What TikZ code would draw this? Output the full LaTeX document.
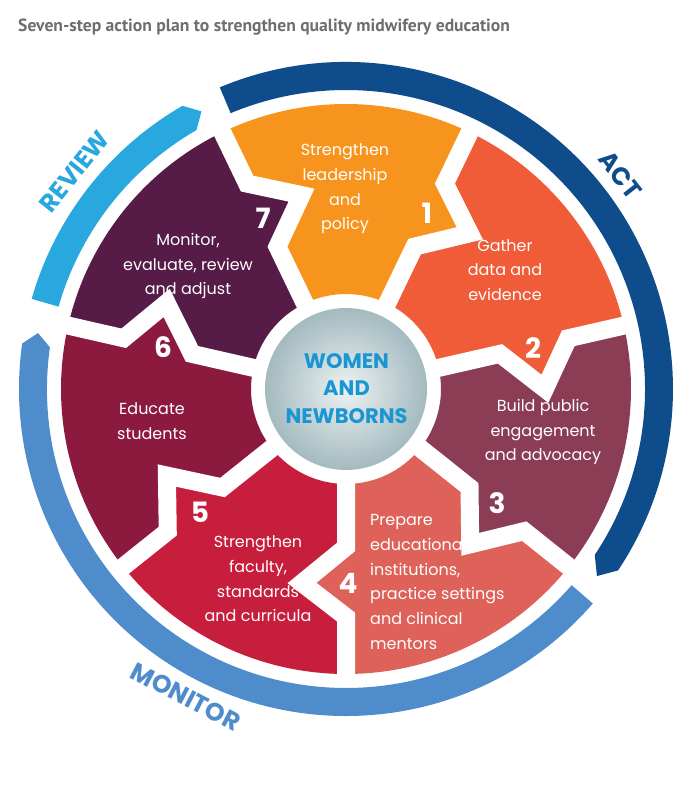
\documentclass[tikz,border=0pt]{standalone}
\usepackage{fontspec}
\setmainfont{Poppins}
\newfontfamily\titlefont{PT Sans}
\usetikzlibrary{calc}

\definecolor{actblue}{HTML}{0F4C8C}
\definecolor{revblue}{HTML}{29A8E0}
\definecolor{monblue}{HTML}{4F8CCB}
\definecolor{sone}{HTML}{F7941D}
\definecolor{stwo}{HTML}{F05B38}
\definecolor{sthree}{HTML}{8A3D55}
\definecolor{sfour}{HTML}{DE6259}
\definecolor{sfive}{HTML}{C71E3D}
\definecolor{ssix}{HTML}{8C1A3F}
\definecolor{sseven}{HTML}{561C47}
\definecolor{womenblue}{HTML}{1B96D4}
\definecolor{titlegray}{HTML}{6D6E71}
\definecolor{discedge}{HTML}{A3BABF}
\definecolor{disccentre}{HTML}{EDF2F2}

\newcommand\segshape[3]{%
  \fill[#1] ({#2}:95) -- ({#2}:158) -- ($({#2}:194)+({#2-90}:44)$) -- ({#2}:228) -- ({#2}:285)
    arc[start angle={#2}, end angle={#3}, radius=285]
    -- ({#3}:228) -- ($({#3}:194)+({#3-90}:44)$) -- ({#3}:158) -- ({#3}:95)
    arc[start angle={#3}, end angle={#2}, radius=95] -- cycle;}
\newcommand\gapline[1]{%
  \draw[gapstroke] ({#1}:86) -- ({#1}:158) -- ($({#1}:194)+({#1-90}:44)$) -- ({#1}:228) -- ({#1}:292);}

\begin{document}
\begin{tikzpicture}[x=1pt,y=1pt,
  gapstroke/.style={white, line width=18pt, line join=miter, miter limit=20},
  segtext/.style={align=center, text=white, font=\fontsize{16}{24.7}\selectfont, inner sep=0pt},
  numtext/.style={text=white, font=\fontsize{28}{28}\selectfont\bfseries, inner sep=0pt},
  ringlabel/.style={inner sep=0pt, font=\fontsize{25}{25}\selectfont\bfseries}
]
\fill[white] (-346,-405) rectangle (342,389);
\useasboundingbox (-346,-405) rectangle (342,389);

% title
\node[anchor=base west, inner sep=0pt, text=titlegray,
  font=\titlefont\fontsize{17.6}{20}\selectfont\bfseries] (title) at (-328,357)
  {Seven-step action plan to strengthen quality midwifery education};

% outer rings
\fill[actblue] (112.7:327) arc[start angle=112.7, end angle=-33.7, radius=327]
  -- (-36.7:313) -- (-33.7:299) arc[start angle=-33.7, end angle=112.7, radius=299] -- cycle;
\fill[revblue] (164:327) arc[start angle=164, end angle=120, radius=327]
  -- (117.5:313) -- (120:299) arc[start angle=120, end angle=164, radius=299] -- cycle;
\fill[monblue] (319:327) arc[start angle=319, end angle=172, radius=327]
  -- (169.7:313) -- (172:299) arc[start angle=172, end angle=319, radius=299] -- cycle;

% ring labels
\node[ringlabel, text=actblue, rotate=-52] (act) at (38:348) {ACT};
\node[ringlabel, text=revblue, rotate=51.3] (review) at (141.3:348) {REVIEW};
\node[ringlabel, text=monblue, rotate=-27.5] (monitor) at (242.5:347) {MONITOR};

% segments
\segshape{sone}{115.714}{64.286}
\segshape{stwo}{64.286}{12.857}
\segshape{sthree}{12.857}{-38.571}
\segshape{sfour}{-38.571}{-90}
\segshape{sfive}{-90}{-141.429}
\segshape{ssix}{-141.429}{-192.857}
\segshape{sseven}{-192.857}{-244.286}
\foreach \b in {115.714,64.286,12.857,-38.571,-90,-141.429,-192.857}{\gapline{\b}}

% centre disc
\node[circle, minimum size=162pt, inner sep=0pt, shade, shading=radial,
  inner color=disccentre, outer color=discedge] (disc) at (0,0) {};
\node[align=center, text=womenblue, inner sep=0pt,
  font=\fontsize{21}{27.5}\selectfont\bfseries] (women) at (0.5,0.5) {WOMEN\\AND\\NEWBORNS};

% segment texts
\node[segtext] (t1) at (-1,200) {Strengthen\\leadership\\and\\policy};
\node[segtext] (t2) at (159,119) {Gather\\data and\\evidence};
\node[segtext] (t3) at (197,-43) {Build public\\engagement\\and advocacy};
\node[segtext, align=left, anchor=west] (t4) at (24,-193) {Prepare\\educational\\institutions,\\practice settings\\and clinical\\mentors};
\node[segtext] (t5) at (-88,-190) {Strengthen\\faculty,\\standards\\and curricula};
\node[segtext] (t6) at (-194,-32.5) {Educate\\students};
\node[segtext] (t7) at (-158,123) {Monitor,\\evaluate, review\\and adjust};

% numbers
\node[numtext] (n1) at (81,176) {1};
\node[numtext] (n2) at (187,41) {2};
\node[numtext] (n3) at (151,-114) {3};
\node[numtext] (n4) at (2,-194) {4};
\node[numtext] (n5) at (-146,-123) {5};
\node[numtext] (n6) at (-183,42) {6};
\node[numtext] (n7) at (-83,171) {7};
\end{tikzpicture}
\end{document}
